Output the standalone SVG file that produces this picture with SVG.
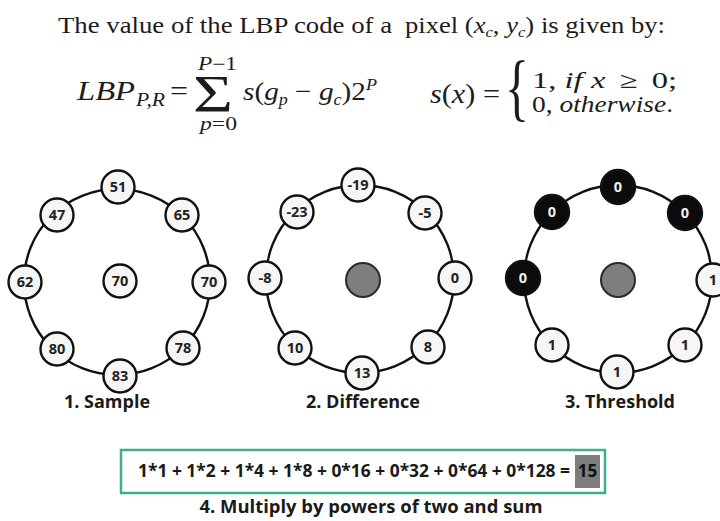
<svg xmlns="http://www.w3.org/2000/svg" width="720" height="521" viewBox="0 0 720 521">
<style>
.ser{font-family:"Liberation Serif","Times New Roman",serif;fill:#1c1c1c}
.it{font-style:italic}
.ring{fill:none;stroke:#111;stroke-width:2.4}
.n circle{fill:#f6f6f6;stroke:#111;stroke-width:2.4}
.n text{font-family:"Open Sans","DejaVu Sans",sans-serif;font-weight:700;font-size:14.5px;fill:#222;text-anchor:middle}
.b circle{fill:#0b0b0b}
.b text{fill:#f0f0f0}
.gc{fill:#7e7e7e;stroke:#2a2a2a;stroke-width:2}
.lab{font-family:"Open Sans","DejaVu Sans",sans-serif;font-weight:700;font-size:18px;fill:#1a1a1a;text-anchor:middle}
</style>
<rect width="720" height="521" fill="#ffffff"/>

<g id="title">
<text class="ser" x="58" y="33" font-size="24" textLength="334" lengthAdjust="spacingAndGlyphs">The value of the LBP code of a</text>
<text class="ser" x="405" y="33" font-size="24" textLength="260" lengthAdjust="spacingAndGlyphs">pixel (<tspan class="it">x</tspan><tspan class="it" font-size="15" dy="4">c</tspan><tspan dy="-4">, </tspan><tspan class="it">y</tspan><tspan class="it" font-size="15" dy="4">c</tspan><tspan dy="-4">) is given by:</tspan></text>
</g>

<g id="formula-lbp">
<text class="ser it" x="77" y="100" font-size="27" textLength="58" lengthAdjust="spacingAndGlyphs">LBP</text>
<text class="ser it" x="136" y="106" font-size="18" textLength="29" lengthAdjust="spacingAndGlyphs">P,R</text>
<text class="ser" x="170" y="100" font-size="27" textLength="18" lengthAdjust="spacingAndGlyphs">=</text>
<text class="ser" x="193" y="112" font-size="53" textLength="40" lengthAdjust="spacingAndGlyphs">Σ</text>
<text class="ser it" x="198" y="70" font-size="18" textLength="39" lengthAdjust="spacingAndGlyphs">P<tspan font-style="normal">−1</tspan></text>
<text class="ser it" x="200" y="130" font-size="18" textLength="37" lengthAdjust="spacingAndGlyphs">p<tspan font-style="normal">=0</tspan></text>
<text class="ser" x="243" y="100" font-size="26" textLength="134" lengthAdjust="spacingAndGlyphs"><tspan class="it">s</tspan>(<tspan class="it">g</tspan><tspan class="it" font-size="16" dy="5">p</tspan><tspan dy="-5"> − </tspan><tspan class="it">g</tspan><tspan class="it" font-size="16" dy="5">c</tspan><tspan dy="-5">)2</tspan><tspan class="it" font-size="16" dy="-10">P</tspan></text>
</g>

<g id="formula-s">
<text class="ser" x="430" y="103" font-size="27" textLength="70" lengthAdjust="spacingAndGlyphs"><tspan class="it">s</tspan>(<tspan class="it">x</tspan>) =</text>
<text class="ser" x="505" y="112" font-size="73" textLength="24" lengthAdjust="spacingAndGlyphs">{</text>
<text class="ser" x="532" y="88" font-size="23" textLength="145" lengthAdjust="spacingAndGlyphs">1, <tspan class="it">if</tspan><tspan class="it" dx="6">x</tspan><tspan dx="10">≥</tspan><tspan dx="10">0;</tspan></text>
<text class="ser" x="532" y="112" font-size="23" textLength="141" lengthAdjust="spacingAndGlyphs">0, <tspan class="it">otherwise</tspan>.</text>
</g>

<g id="connectors">
<circle class="ring" cx="117" cy="282" r="93"/>
<circle class="ring" cx="360" cy="279" r="94"/>
<circle class="ring" cx="618" cy="279" r="94"/>
</g>

<g id="panel-sample">
<g id="s-top" class="n"><circle cx="118" cy="187" r="16.5"/><text x="118" y="192">51</text></g>
<g id="s-tr" class="n"><circle cx="182" cy="215" r="16.5"/><text x="182" y="220">65</text></g>
<g id="s-r" class="n"><circle cx="209" cy="282" r="16.5"/><text x="209" y="287">70</text></g>
<g id="s-br" class="n"><circle cx="183" cy="348" r="16.5"/><text x="183" y="353">78</text></g>
<g id="s-b" class="n"><circle cx="120" cy="376" r="16.5"/><text x="120" y="381">83</text></g>
<g id="s-bl" class="n"><circle cx="57" cy="349" r="16.5"/><text x="57" y="354">80</text></g>
<g id="s-l" class="n"><circle cx="25" cy="282" r="16.5"/><text x="25" y="287">62</text></g>
<g id="s-tl" class="n"><circle cx="57" cy="215" r="16.5"/><text x="57" y="220">47</text></g>
<g id="s-c" class="n"><circle cx="120" cy="281" r="16.5"/><text x="120" y="286">70</text></g>
<text class="lab" x="107" y="408">1. Sample</text>
</g>

<g id="panel-difference">
<g id="d-top" class="n"><circle cx="358" cy="185" r="16.5"/><text x="358" y="190">-19</text></g>
<g id="d-tr" class="n"><circle cx="425" cy="213" r="16.5"/><text x="425" y="218">-5</text></g>
<g id="d-r" class="n"><circle cx="455" cy="278" r="16.5"/><text x="455" y="283">0</text></g>
<g id="d-br" class="n"><circle cx="428" cy="347" r="16.5"/><text x="428" y="352">8</text></g>
<g id="d-b" class="n"><circle cx="362" cy="373" r="16.5"/><text x="362" y="378">13</text></g>
<g id="d-bl" class="n"><circle cx="295" cy="348" r="16.5"/><text x="295" y="353">10</text></g>
<g id="d-l" class="n"><circle cx="265" cy="278" r="16.5"/><text x="265" y="283">-8</text></g>
<g id="d-tl" class="n"><circle cx="297" cy="212" r="16.5"/><text x="297" y="217">-23</text></g>
<g id="d-c"><circle class="gc" cx="363" cy="280" r="17"/></g>
<text class="lab" x="363" y="408">2. Difference</text>
</g>

<g id="panel-threshold">
<g id="t-top" class="n b"><circle cx="618" cy="187" r="17"/><text x="618" y="192">0</text></g>
<g id="t-tr" class="n b"><circle cx="685" cy="213" r="17"/><text x="685" y="218">0</text></g>
<g id="t-r" class="n"><circle cx="713" cy="280" r="16.5"/><text x="713" y="285">1</text></g>
<g id="t-br" class="n"><circle cx="685" cy="345" r="16.5"/><text x="685" y="350">1</text></g>
<g id="t-b" class="n"><circle cx="617" cy="372" r="16.5"/><text x="617" y="377">1</text></g>
<g id="t-bl" class="n"><circle cx="552" cy="345" r="16.5"/><text x="552" y="350">1</text></g>
<g id="t-l" class="n b"><circle cx="523" cy="278" r="17"/><text x="523" y="283">0</text></g>
<g id="t-tl" class="n b"><circle cx="552" cy="212" r="17"/><text x="552" y="217">0</text></g>
<g id="t-c"><circle class="gc" cx="618" cy="280" r="17"/></g>
<text class="lab" x="620" y="408">3. Threshold</text>
</g>

<g id="sum">
<rect x="121" y="450" width="484" height="43" fill="#ffffff" stroke="#3fae8e" stroke-width="2.5"/>
<text x="138" y="477" font-family="Open Sans, DejaVu Sans, sans-serif" font-weight="700" font-size="17.5" fill="#1a1a1a" textLength="432" lengthAdjust="spacingAndGlyphs">1*1 + 1*2 + 1*4 + 1*8 + 0*16 + 0*32 + 0*64 + 0*128 =</text>
<rect x="575" y="455" width="25" height="33" fill="#7d7d7d"/>
<text x="587.5" y="477" font-family="Open Sans, DejaVu Sans, sans-serif" font-weight="700" font-size="17" fill="#111" text-anchor="middle">15</text>
<text class="lab" x="371" y="513" textLength="343" lengthAdjust="spacingAndGlyphs">4. Multiply by powers of two and sum</text>
</g>
</svg>
